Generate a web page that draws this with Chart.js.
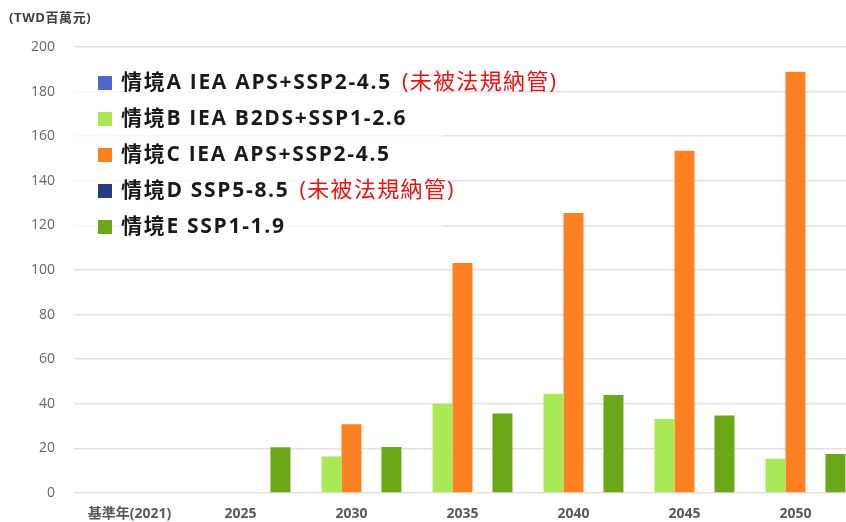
<!DOCTYPE html>
<html>
<head>
<meta charset="utf-8">
<script src="https://cdn.jsdelivr.net/npm/chart.js@4/dist/chart.umd.min.js"></script>
<style>
  html, body { margin: 0; padding: 0; background: #fff; overflow: hidden; }
  #wrap { width: 852px; height: 522px; position: relative; }
</style>
</head>
<body>
<div id="wrap"><canvas id="costChart"></canvas></div>
<script>
// categories (x axis)
const years = ['基準年(2021)', '2025', '2030', '2035', '2040', '2045', '2050'];

// series values, TWD millions
const scenarioA = [0, 0, 0, 0, 0, 0, 0];
const scenarioB = [0, 0, 16.4, 40, 44.5, 33.2, 15.4];
const scenarioC = [0, 0, 30.8, 103.1, 125.6, 153.5, 188.9];
const scenarioD = [0, 0, 0, 0, 0, 0, 0];
const scenarioE = [0, 20.5, 20.6, 35.7, 43.9, 34.7, 17.5];

// legend text: main label + red note
const seriesLabels = ['情境A IEA APS+SSP2-4.5', '情境B IEA B2DS+SSP1-2.6', '情境C IEA APS+SSP2-4.5', '情境D SSP5-8.5', '情境E SSP1-1.9'];
const seriesNotes = ['(未被法規納管)', '', '', '(未被法規納管)', ''];
const seriesColors = ['#4e67cc', '#a8e955', '#fd8122', '#273b80', '#6aa817'];

const yTicks = [0, 20, 40, 60, 80, 100, 120, 140, 160, 180, 200];
const unitLabel = '(TWD百萬元)';

const seriesValues = [scenarioA, scenarioB, scenarioC, scenarioD, scenarioE];

const FONT = '"Open Sans", "Noto Sans CJK TC", sans-serif';

// draws unit label and the overlaid legend box
const overlayPlugin = {
    id: 'overlay',
    afterDraw(chart) {
        const ctx = chart.ctx;
        ctx.save();
        // unit label
        ctx.fillStyle = '#404040';
        ctx.font = 'bold 13px ' + FONT;
        ctx.letterSpacing = '0.6px';
        ctx.textBaseline = 'middle';
        ctx.textAlign = 'left';
        ctx.fillText(unitLabel, 9, 18);

        // legend box
        ctx.fillStyle = 'rgba(255,255,255,0.72)';
        ctx.fillRect(55, 65, 388, 178);

        const rowY0 = 83;
        const rowGap = 36;
        seriesLabels.forEach((label, i) => {
            const y = rowY0 + i * rowGap;
            ctx.fillStyle = seriesColors[i];
            ctx.fillRect(98, y - 7, 14, 14);
            ctx.font = 'bold 21px ' + FONT;
            ctx.letterSpacing = '1.7px';
            ctx.fillStyle = '#1a1a1a';
            ctx.textBaseline = 'middle';
            ctx.fillText(label, 121, y);
            if (seriesNotes[i]) {
                const w = ctx.measureText(label).width;
                ctx.font = '22px ' + FONT;
                ctx.letterSpacing = '1.3px';
                ctx.fillStyle = '#f01010';
                ctx.fillText(seriesNotes[i], 121 + w + 10, y);
            }
        });
        ctx.restore();
    }
};

const ctx = document.getElementById('costChart').getContext('2d');
window.costChart = new Chart(ctx, {
    type: 'bar',
    data: {
        labels: years,
        datasets: seriesValues.map((vals, i) => ({
            label: seriesLabels[i],
            data: vals,
            backgroundColor: seriesColors[i],
            borderWidth: 0,
            categoryPercentage: 0.9,
            barPercentage: 1.0
        }))
    },
    options: {
        responsive: true,
        maintainAspectRatio: false,
        animation: false,
        layout: {
            padding: { top: 47, right: 1, bottom: 0, left: 0 }
        },
        scales: {
            x: {
                grid: { display: false },
                border: { display: false },
                ticks: {
                    color: '#595959',
                    font: { family: FONT, size: 14, weight: 'bold' },
                    padding: 5,
                    maxRotation: 0,
                    autoSkip: false
                },
                afterFit: function (scale) {
                    scale.height = 29;
                }
            },
            y: {
                min: 0,
                max: 200,
                afterBuildTicks: function (scale) {
                    scale.ticks = yTicks.map(v => ({ value: v }));
                },
                grid: {
                    color: '#e2e2e2',
                    lineWidth: 1.5,
                    drawTicks: false
                },
                border: { display: false },
                ticks: {
                    color: '#666666',
                    font: { family: FONT, size: 14 },
                    padding: 19
                },
                afterFit: function (scale) {
                    scale.width = 74;
                }
            }
        },
        plugins: {
            legend: { display: false },
            tooltip: { enabled: false }
        }
    },
    plugins: [overlayPlugin]
});
</script>
</body>
</html>
